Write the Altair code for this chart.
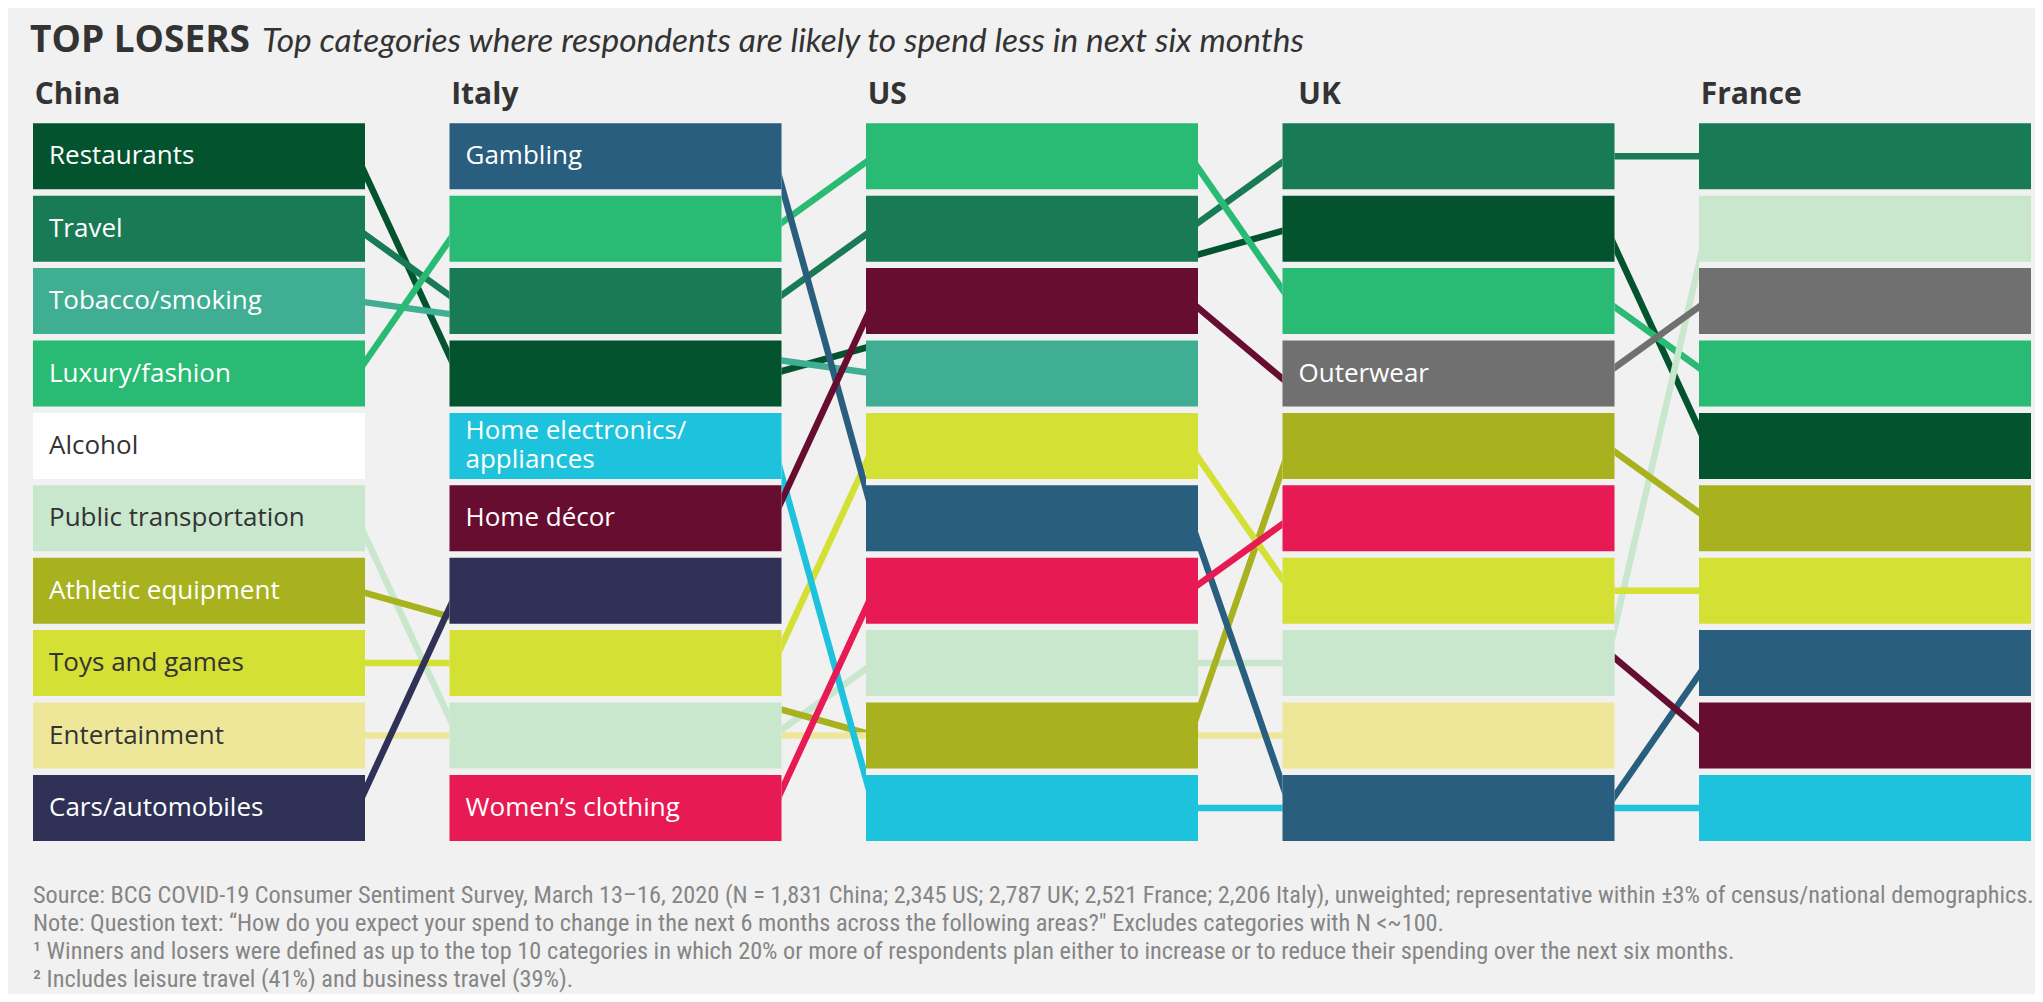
import altair as alt
import pandas as pd

# ---------------- data ----------------
countries = ["China", "Italy", "US", "UK", "France"]

china = ["Restaurants", "Travel", "Tobacco/smoking", "Luxury/fashion", "Alcohol",
         "Public transportation", "Athletic equipment", "Toys and games",
         "Entertainment", "Cars/automobiles"]
italy = ["Gambling", "Luxury/fashion", "Travel", "Restaurants",
         "Home electronics/appliances", "Home décor", "Cars/automobiles",
         "Toys and games", "Public transportation", "Women’s clothing"]
us = ["Luxury/fashion", "Travel", "Home décor", "Tobacco/smoking", "Toys and games",
      "Gambling", "Women’s clothing", "Public transportation", "Athletic equipment",
      "Home electronics/appliances"]
uk = ["Travel", "Restaurants", "Luxury/fashion", "Outerwear", "Athletic equipment",
      "Women’s clothing", "Toys and games", "Public transportation", "Entertainment",
      "Gambling"]
france = ["Travel", "Public transportation", "Outerwear", "Luxury/fashion", "Restaurants",
          "Athletic equipment", "Toys and games", "Gambling", "Home décor",
          "Home electronics/appliances"]
rankings = [china, italy, us, uk, france]

categories = ["Restaurants", "Travel", "Tobacco/smoking", "Luxury/fashion", "Alcohol",
              "Public transportation", "Athletic equipment", "Toys and games",
              "Entertainment", "Cars/automobiles", "Gambling",
              "Home electronics/appliances", "Home décor", "Women’s clothing", "Outerwear"]
cat_colors = ["#03532f", "#197a56", "#3fae92", "#29ba74", "#ffffff",
              "#c9e7cd", "#a8b21f", "#d4e033", "#eee79a", "#2f3157", "#295e7e",
              "#1dc3dc", "#670d2f", "#e71a54", "#707070"]
dark_text = ["Alcohol", "Public transportation", "Toys and games", "Entertainment"]
display = {"Home electronics/appliances": "Home electronics/\nappliances"}

title_main = "TOP LOSERS"
title_sub = "Top categories where respondents are likely to spend less in next six months"
footnotes = [
    "Source: BCG COVID-19 Consumer Sentiment Survey, March 13–16, 2020 (N = 1,831 China; 2,345 US; 2,787 UK; 2,521 France; 2,206 Italy), unweighted; representative within ±3% of census/national demographics.",
    "Note: Question text: “How do you expect your spend to change in the next 6 months across the following areas?\" Excludes categories with N <~100.",
    "¹ Winners and losers were defined as up to the top 10 categories in which 20% or more of respondents plan either to increase or to reduce their spending over the next six months.",
    "² Includes leisure travel (41%) and business travel (39%).",
]

# ---------------- tables ----------------
seen = set()
box_rows = []
for ci, lst in enumerate(rankings):
    for ri, cat in enumerate(lst):
        label = ""
        if cat not in seen:
            label = display.get(cat, cat)
            seen.add(cat)
        box_rows.append({"country": countries[ci], "col": ci, "rank": ri + 1, "cat": cat,
                         "label": label,
                         "tcolor": "#333333" if cat in dark_text else "#ffffff"})
boxes = pd.DataFrame(box_rows)

seg_rows = []
for cat in categories:
    pos = [(ci, lst.index(cat) + 1) for ci, lst in enumerate(rankings) if cat in lst]
    for (c1, r1), (c2, r2) in zip(pos[:-1], pos[1:]):
        seg_rows.append({"cat": cat, "c1": c1, "r1": r1, "c2": c2, "r2": r2})
segs = pd.DataFrame(seg_rows)

heads = pd.DataFrame({"country": countries, "col": list(range(len(countries)))})
head_nudge = {"UK": 0.038}
heads["hx"] = [c + head_nudge.get(n, 0.004) for n, c in zip(countries, heads["col"])]
heads["first"] = 1
heads["last"] = len(china)

# ---------------- geometry / scales ----------------
W, H = 2027, 986
PX_COL = 416.5
PX_ROW = 72.4
X0 = -25 / PX_COL
X1 = X0 + W / PX_COL
Y0 = 1 - 148.3 / PX_ROW
Y1 = Y0 + H / PX_ROW
BOX_W = 332 / PX_COL
BOX_H2 = 33 / PX_ROW
INSET = 8 / PX_COL
BG = "#f1f1f1"

xs = alt.Scale(domain=[X0, X1], nice=False, zero=False)
ys = alt.Scale(domain=[Y0, Y1], nice=False, zero=False, reverse=True)
cs = alt.Scale(domain=categories, range=cat_colors)

lines = alt.Chart(segs).transform_calculate(
    xa=f"datum.c1 + {BOX_W - INSET}", xb=f"datum.c2 + {INSET}"
).mark_rule(strokeWidth=6.5).encode(
    x=alt.X("xa:Q", scale=xs, axis=None),
    x2="xb:Q",
    y=alt.Y("r1:Q", scale=ys, axis=None),
    y2="r2:Q",
    color=alt.Color("cat:N", scale=cs, legend=None),
)

# background band per column hides the connector lines that pass behind a column
covers = alt.Chart(heads).transform_calculate(
    xe=f"datum.col + {BOX_W}", yt=f"datum.first - {BOX_H2}", yb=f"datum.last + {BOX_H2}"
).mark_rect(color=BG).encode(
    x=alt.X("col:Q", scale=xs, axis=None),
    x2="xe:Q",
    y=alt.Y("yt:Q", scale=ys, axis=None),
    y2="yb:Q",
)

rects = alt.Chart(boxes).transform_calculate(
    xe=f"datum.col + {BOX_W}", yt=f"datum.rank - {BOX_H2}", yb=f"datum.rank + {BOX_H2}"
).mark_rect().encode(
    x=alt.X("col:Q", scale=xs, axis=None),
    x2="xe:Q",
    y=alt.Y("yt:Q", scale=ys, axis=None),
    y2="yb:Q",
    color=alt.Color("cat:N", scale=cs, legend=None),
)

labels = alt.Chart(boxes).transform_calculate(
    ly=f"datum.rank - (indexof(datum.label, '\\n') >= 0 ? {14.5 / PX_ROW} : 0)"
).mark_text(
    align="left", baseline="middle", dx=16, fontSize=26, font="Open Sans",
    lineBreak="\n", lineHeight=29,
).encode(
    x=alt.X("col:Q", scale=xs, axis=None),
    y=alt.Y("ly:Q", scale=ys, axis=None),
    text="label:N",
    color=alt.Color("tcolor:N", scale=None),
)

headers = alt.Chart(heads).mark_text(
    align="left", baseline="alphabetic", fontSize=30, fontWeight="bold",
    font="Open Sans", color="#333333",
).encode(
    x=alt.X("hx:Q", scale=xs, axis=None),
    y=alt.value(96),
    text="country:N",
)

tdf = pd.DataFrame({"t": [title_main]})
sdf = pd.DataFrame({"t": [title_sub]})
title1 = alt.Chart(tdf).mark_text(
    align="left", baseline="alphabetic", fontSize=37, fontWeight="bold",
    font="Open Sans", color="#333333",
).encode(x=alt.value(22), y=alt.value(44), text="t:N")
title2 = alt.Chart(sdf).mark_text(
    align="left", baseline="alphabetic", fontSize=33.5, fontStyle="italic",
    font="Lato", color="#333333",
).encode(x=alt.value(254), y=alt.value(44), text="t:N")

foot_y = [895, 923, 951, 979]
foot_layers = []
for i, line in enumerate(footnotes):
    fdf = pd.DataFrame({"t": [line]})
    foot_layers.append(
        alt.Chart(fdf).mark_text(
            align="left", baseline="alphabetic", fontSize=24.3,
            font="Liberation Sans Narrow, Roboto Condensed, Roboto", color="#858585",
        ).encode(x=alt.value(25), y=alt.value(foot_y[i]), text="t:N")
    )

chart = alt.layer(lines, covers, rects, labels, headers, title1, title2, *foot_layers).properties(
    width=W, height=H, background=BG, padding=0,
    autosize=alt.AutoSizeParams(type="none"),
).configure_view(stroke=None)

chart.save("out.html", embed_options={"renderer": "svg", "actions": False})
